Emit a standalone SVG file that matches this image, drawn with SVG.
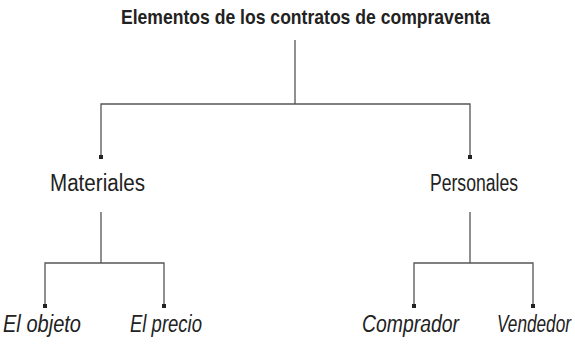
<svg xmlns="http://www.w3.org/2000/svg" width="575" height="346" viewBox="0 0 575 346">
<style>
.ln{fill:none;stroke:#555;stroke-width:1.3}
.dot{fill:#222}
.t{font-family:"Liberation Sans Narrow","Liberation Sans",Arial,sans-serif;font-size:23px;fill:#222}
.b{font-weight:bold;font-size:21px}
.i{font-style:italic}
</style>
<rect width="575" height="346" fill="#fff"/>
<g id="connectors">
<path class="ln" d="M295,40V104M101,157V104H470V157"/>
<path class="ln" d="M101,212V263M45,306V263H164V306"/>
<path class="ln" d="M470,212V263M414,306V263H533V306"/>
<rect class="dot" x="99" y="155" width="4" height="4"/>
<rect class="dot" x="468" y="155" width="4" height="4"/>
<rect class="dot" x="43" y="304" width="4" height="4"/>
<rect class="dot" x="162" y="304" width="4" height="4"/>
<rect class="dot" x="412" y="304" width="4" height="4"/>
<rect class="dot" x="531" y="304" width="4" height="4"/>
</g>
<g id="title"><text class="t b" x="121" y="24" textLength="369" lengthAdjust="spacingAndGlyphs">Elementos de los contratos de compraventa</text></g>
<g id="materiales"><text class="t" x="50" y="191" textLength="95" lengthAdjust="spacingAndGlyphs">Materiales</text></g>
<g id="personales"><text class="t" x="430" y="191" textLength="88" lengthAdjust="spacingAndGlyphs">Personales</text></g>
<g id="objeto"><text class="t i" x="3" y="332" textLength="78" lengthAdjust="spacingAndGlyphs">El objeto</text></g>
<g id="precio"><text class="t i" x="130" y="332" textLength="72" lengthAdjust="spacingAndGlyphs">El precio</text></g>
<g id="comprador"><text class="t i" x="362" y="332" textLength="97" lengthAdjust="spacingAndGlyphs">Comprador</text></g>
<g id="vendedor"><text class="t i" x="571" y="332" text-anchor="end" textLength="74" lengthAdjust="spacingAndGlyphs">Vendedor</text></g>
</svg>
